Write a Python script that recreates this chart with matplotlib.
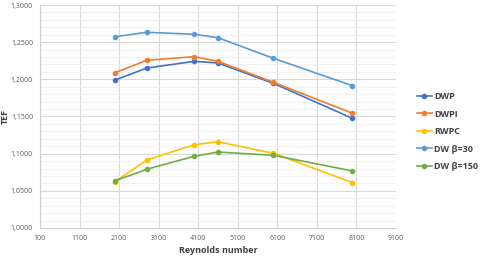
import matplotlib.pyplot as plt
from matplotlib.ticker import MultipleLocator, FixedLocator, FuncFormatter

# Reynolds numbers and TEF values
reynolds = [2000, 2800, 4000, 4600, 6000, 8000]
dwp = [1.1991, 1.2152, 1.2242, 1.2220, 1.1946, 1.1475]
dwpi = [1.2089, 1.2256, 1.2305, 1.2242, 1.1960, 1.1543]
rwpc = [1.0623, 1.0915, 1.1120, 1.1160, 1.1005, 1.0610]
dw_b30 = [1.2573, 1.2633, 1.2606, 1.2560, 1.2283, 1.1914]
dw_b150 = [1.0636, 1.0790, 1.0965, 1.1022, 1.0978, 1.0767]
x_ticks = [100, 1100, 2100, 3100, 4100, 5100, 6100, 7100, 8100, 9100]

series = [
    ('DWP', dwp, '#4472C4'),
    ('DWPI', dwpi, '#ED7D31'),
    ('RWPC', rwpc, '#FFC000'),
    ('DW β=30', dw_b30, '#5B9BD5'),
    ('DW β=150', dw_b150, '#70AD47'),
]

plt.rcParams['font.family'] = ['Open Sans', 'DejaVu Sans']

fig = plt.figure(figsize=(4.8, 2.58), dpi=100)
ax = fig.add_axes([0.0833, 0.1163, 0.7417, 0.8643])

for name, vals, color in series:
    ax.plot(reynolds, vals, color=color, lw=1.2, marker='o', ms=3, label=name)

ax.set_xlim(100, 9100)
ax.set_ylim(1.0, 1.3)
ax.xaxis.set_major_locator(FixedLocator(x_ticks))
ax.yaxis.set_major_locator(MultipleLocator(0.05))
ax.yaxis.set_minor_locator(MultipleLocator(0.01))
ax.yaxis.set_major_formatter(FuncFormatter(lambda v, p: f'{v:.4f}'.replace('.', ',')))

ax.grid(which='major', color='#d9d9d9', lw=0.8)
ax.grid(which='minor', axis='y', color='#efefef', lw=0.6)
ax.set_axisbelow(True)

for side in ['top', 'right']:
    ax.spines[side].set_visible(False)
for side in ['left', 'bottom']:
    ax.spines[side].set_color('#d0d0d0')

ax.tick_params(which='both', length=0, labelsize=5, labelcolor='#595959', pad=5)

ax.set_xlabel('Reynolds number', fontsize=6.5, fontweight='bold', color='#404040', labelpad=3)
ax.set_ylabel('TEF', fontsize=6.5, fontweight='bold', color='#404040')
ax.yaxis.set_label_coords(-0.085, 0.5)

leg = fig.legend(loc='center left', bbox_to_anchor=(0.852, 0.49), frameon=False,
                 handlelength=1.6, handletextpad=0.3, labelspacing=0.95,
                 prop={'weight': 'bold', 'size': 6.5})
for t in leg.get_texts():
    t.set_color('#404040')

fig.savefig('out.png', dpi=100)
